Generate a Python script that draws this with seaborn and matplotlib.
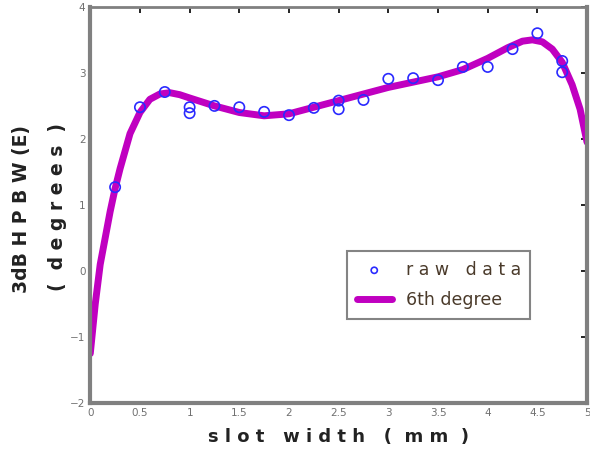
import matplotlib
matplotlib.use("Agg")
import matplotlib.pyplot as plt
import seaborn as sns
import pandas as pd

# raw measurements (slot width in mm, beamwidth in degrees)
raw_x = [0.25, 0.5, 0.75, 1.0, 1.0, 1.25, 1.5, 1.75, 2.0, 2.25, 2.5, 2.5,
         2.75, 3.0, 3.25, 3.5, 3.75, 4.0, 4.25, 4.5, 4.75, 4.75]
raw_y = [1.27, 2.48, 2.71, 2.48, 2.39, 2.5, 2.48, 2.41, 2.36, 2.47, 2.58, 2.45,
         2.59, 2.91, 2.92, 2.89, 3.09, 3.09, 3.36, 3.6, 3.18, 3.01]

# 6th degree fit curve
fit_x = [0.0, 0.05, 0.1, 0.15, 0.2, 0.25, 0.3, 0.4, 0.5, 0.6, 0.7, 0.8, 0.9,
         1.0, 1.25, 1.5, 1.75, 2.0, 2.25, 2.5, 2.75, 3.0, 3.25, 3.5, 3.75,
         4.0, 4.2, 4.35, 4.45, 4.55, 4.65, 4.75, 4.85, 4.93, 5.0]
fit_y = [-1.25, -0.5, 0.1, 0.5, 0.9, 1.25, 1.55, 2.08, 2.4, 2.6, 2.68, 2.7, 2.67,
         2.62, 2.5, 2.4, 2.35, 2.38, 2.48, 2.58, 2.68, 2.78, 2.86, 2.94, 3.05,
         3.22, 3.38, 3.48, 3.5, 3.47, 3.36, 3.16, 2.82, 2.45, 1.95]

x_ticks = [0, 0.5, 1, 1.5, 2, 2.5, 3, 3.5, 4, 4.5, 5]
x_ticklabels = ["0", "0.5", "1", "1.5", "2", "2.5", "3", "3.5", "4", "4.5", "5"]
y_ticks = [-2, -1, 0, 1, 2, 3, 4]

raw_df = pd.DataFrame({"x": raw_x, "y": raw_y})
fit_df = pd.DataFrame({"x": fit_x, "y": fit_y})

sns.set_style("white")
plt.rcParams["font.family"] = ["DejaVu Sans"]

fig = plt.figure(figsize=(5.9, 4.55), dpi=100)
ax = fig.add_axes([0.153, 0.114, 0.842, 0.871])

sns.lineplot(data=fit_df, x="x", y="y", ax=ax, color="#c000c0", linewidth=5,
             estimator=None, sort=False, label="6th degree", zorder=2)
sns.scatterplot(data=raw_df, x="x", y="y", ax=ax, marker="o", s=55,
                facecolors="none", edgecolors="#2a2aff", linewidth=1.2,
                label="r a w   d a t a", zorder=3)

ax.set_xlim(0, 5)
ax.set_ylim(-2, 4)
ax.set_xticks(x_ticks)
ax.set_xticklabels(x_ticklabels)
ax.set_yticks(y_ticks)
ax.tick_params(direction="in", length=4, width=1.2, colors="black",
               labelcolor="#707070", labelsize=7.5, top=True, right=True)

for side in ["left", "bottom", "top", "right"]:
    ax.spines[side].set_color("#808080")
    ax.spines[side].set_linewidth(3)
ax.spines["top"].set_linewidth(2)

ax.set_xlabel("s l o t   w i d t h   (  m m  )", fontsize=13, fontweight="bold",
              color="#222222", labelpad=7)
ax.set_ylabel("3dB H P B W (E)", fontsize=13.5, fontweight="bold",
              color="#222222")
ax.yaxis.set_label_coords(-0.12, 0.49)
fig.text(0.097, 0.545, "(  d e g r e e s  )", rotation=90, fontsize=13.5,
         fontweight="bold", color="#222222", ha="center", va="center")

# legend: raw data first
handles, labels = ax.get_legend_handles_labels()
leg = ax.legend(handles[::-1], labels[::-1], loc="upper left",
                bbox_to_anchor=(0.50, 0.405), frameon=True, fancybox=False,
                fontsize=12.5, handlelength=2.0, borderpad=0.55,
                labelspacing=0.7, markerscale=0.6)
leg.get_frame().set_edgecolor("#666666")
leg.get_frame().set_linewidth(1.5)
for t in leg.get_texts():
    t.set_color("#4a3a2a")

fig.savefig("out.png", dpi=100)
